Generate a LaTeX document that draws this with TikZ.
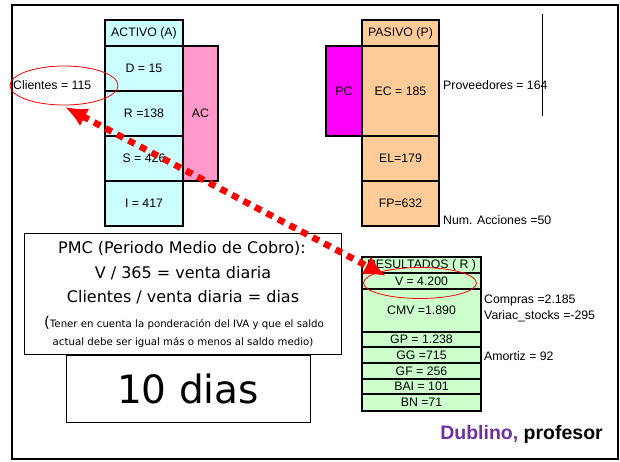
\documentclass[tikz,border=0pt]{standalone}
\usepackage{fontspec}
\setmainfont{Liberation Sans}
\newfontfamily\comicf{DejaVu Sans}
\usetikzlibrary{arrows.meta,shapes.geometric}
\definecolor{acCyan}{HTML}{CCFFFF}
\definecolor{acPink}{HTML}{FF99CC}
\definecolor{pasOr}{HTML}{FFCC99}
\definecolor{pcMag}{HTML}{FF00FF}
\definecolor{resGr}{HTML}{CCFFCC}
\definecolor{dubPurple}{HTML}{7030A0}
\tikzset{
  cell/.style={draw=black, line width=1.2pt, inner sep=0pt, font=\fontsize{12.3}{14}\selectfont, anchor=center},
  rcell/.style={cell, fill=resGr, minimum width=119pt},
  lbl/.style={font=\fontsize{12.3}{14}\selectfont, inner sep=0pt, anchor=west},
  ring/.style={draw=red, line width=0.8pt, ellipse, inner sep=0pt},
  plain/.style={draw=black, line width=0.8pt, inner sep=0pt},
  dotarrow/.style={draw=red, line width=6.5pt, dash pattern=on 7pt off 6pt, {Latex[length=22pt,width=20pt]}-{Latex[length=22pt,width=20pt]}}
}
\begin{document}
\begin{tikzpicture}[x=1pt,y=-1pt]
\useasboundingbox (0,0) rectangle (620,461);
\fill[white] (0,0) rectangle (620,461);
\node[draw=black, line width=2pt, minimum width=606pt, minimum height=454pt, inner sep=0pt] (frame) at (315,232) {};
% ACTIVO
\node[cell, fill=acPink, minimum width=35pt, minimum height=135pt] (ac) at (200.5,113.5) {AC};
\node[cell, fill=acCyan, minimum width=78pt, minimum height=26pt] (ah) at (144,33) {ACTIVO (A)};
\node[cell, fill=acCyan, minimum width=78pt, minimum height=45pt] (ad) at (144,68.5) {D = 15};
\node[cell, fill=acCyan, minimum width=78pt, minimum height=45pt] (ar) at (144,113.5) {R =138};
\node[cell, fill=acCyan, minimum width=78pt, minimum height=45pt] (as) at (144,158.5) {S = 426};
\node[cell, fill=acCyan, minimum width=78pt, minimum height=45pt] (ai) at (144,203.5) {I = 417};
% PASIVO
\node[cell, fill=pcMag, minimum width=36pt, minimum height=90pt] (pc) at (344,91) {PC};
\node[cell, fill=pasOr, minimum width=77pt, minimum height=26pt] (ph) at (400.5,33) {PASIVO (P)};
\node[cell, fill=pasOr, minimum width=77pt, minimum height=90pt] (pec) at (400.5,91) {EC = 185};
\node[cell, fill=pasOr, minimum width=77pt, minimum height=45pt] (pel) at (400.5,158.5) {EL=179};
\node[cell, fill=pasOr, minimum width=77pt, minimum height=45pt] (pfp) at (400.5,203.5) {FP=632};
\node[lbl] (prov) at (443,85) {Proveedores = 164};
\coordinate (vl1) at (542,14);
\coordinate (vl2) at (542,116);
\draw[line width=1pt] (vl1) -- (vl2);
\node[lbl] (acc) at (443,220) {Num. Acciones =50};
% Clientes
\node[ring, minimum width=108pt, minimum height=39pt] (cle) at (64,85.5) {};
\node[lbl] (cli) at (13,85) {Clientes = 115};
% RESULTADOS
\node[rcell, minimum height=16pt] (rh) at (421.5,265) {RESULTADOS ( R )};
\node[rcell, minimum height=16pt] (rv) at (421.5,281) {V = 4.200};
\node[rcell, minimum height=43pt] (rcmv) at (421.5,310.5) {CMV =1.890};
\node[rcell, minimum height=15pt] (rgp) at (421.5,339.5) {GP = 1.238};
\node[rcell, minimum height=16pt] (rgg) at (421.5,355) {GG =715};
\node[rcell, minimum height=16pt] (rgf) at (421.5,371) {GF = 256};
\node[rcell, minimum height=15pt] (rbai) at (421.5,386.5) {BAI = 101};
\node[rcell, minimum height=17pt] (rbn) at (421.5,402.5) {BN =71};
\node[ring, minimum width=113pt, minimum height=31pt] (ve) at (420,283) {};
\node[lbl] (comp) at (484,300) {Compras =2.185};
\node[lbl] (varst) at (484,316) {Variac\_stocks =-295};
\node[lbl] (amort) at (484,356) {Amortiz = 92};
% PMC box
\node[plain, minimum width=317pt, minimum height=121pt] (pmc) at (182.5,293.5) {};
\node[font=\comicf\fontsize{16}{18}\selectfont, inner sep=0pt] (pm1) at (182,248) {PMC (Periodo Medio de Cobro):};
\node[font=\comicf\fontsize{16}{18}\selectfont, inner sep=0pt] (pm2) at (183,273) {V / 365 = venta diaria};
\node[font=\comicf\fontsize{16}{18}\selectfont, inner sep=0pt] (pm3) at (183,297) {Clientes / venta diaria = dias};
\node[font=\comicf\fontsize{10.2}{12}\selectfont, inner sep=0pt] (pm4) at (184,323) {{\fontsize{15}{16}\selectfont(}Tener en cuenta la ponderación del IVA y que el saldo};
\node[font=\comicf\fontsize{10.2}{12}\selectfont, inner sep=0pt] (pm5) at (183,342) {actual debe ser igual más o menos al saldo medio)};
\node[plain, minimum width=244pt, minimum height=67pt, font=\comicf\fontsize{39}{44}\selectfont] (dias) at (188,388.5) {10 dias};
% signature
\node[anchor=east, inner sep=0pt, font=\bfseries\fontsize{19.5}{22}\selectfont] (sig) at (603,434) {\textcolor{dubPurple}{Dublino,} profesor};
% arrow
\coordinate (t1) at (65,107);
\coordinate (t2) at (386,276);
\draw[dotarrow] (t1) -- (t2);
\end{tikzpicture}
\end{document}
